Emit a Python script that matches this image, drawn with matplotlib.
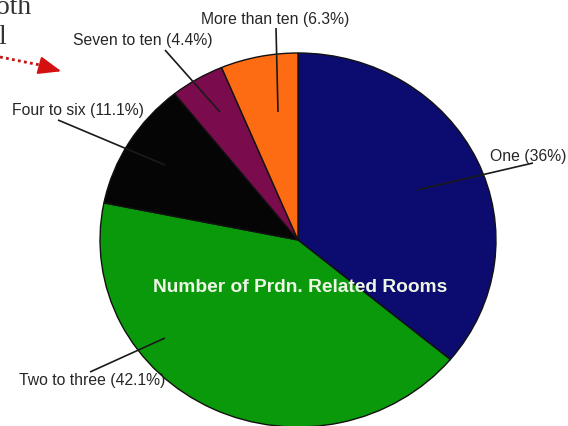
import matplotlib
matplotlib.use("Agg")
import matplotlib.pyplot as plt

# Share of establishments by number of production-related rooms
categories = ["One", "Two to three", "Four to six", "Seven to ten", "More than ten"]
shares = [36, 42.1, 11.1, 4.4, 6.3]
colors = ["#0c0b70", "#0b990c", "#050505", "#7a0b4c", "#fd6b12"]
title = "Number of Prdn. Related Rooms"

W, H = 568, 426
CX, CY, RX, RY = 298, 240, 198, 187


def px(x, y):
    """Convert a pixel position (from the top-left) to data coordinates."""
    return ((x - CX) / RX, (CY - y) / RY)


fig = plt.figure(figsize=(W / 100, H / 100), dpi=100)
ax = fig.add_axes([0, 0, 1, 1])

ax.pie(shares, colors=colors, startangle=90, counterclock=False, radius=1,
       wedgeprops=dict(edgecolor="#111111", linewidth=1.0))
ax.set_aspect("auto")
ax.set_xlim(px(0, 0)[0], px(W, 0)[0])
ax.set_ylim(px(0, H)[1], px(0, 0)[1])
ax.axis("off")

labels = [f"{c} ({s:g}%)" for c, s in zip(categories, shares)]

# label centre, leader start, leader end (pixels)
layout = [
    ((528, 156), (533, 163), (417, 190)),
    ((92, 381), (90, 372), (165, 338)),
    ((78, 110), (58, 120), (165, 165)),
    ((143, 40), (165, 50), (220, 112)),
    ((275, 19), (276, 28), (278, 112)),
]

for text, (tpos, lstart, lend) in zip(labels, layout):
    ax.text(*px(*tpos), text, ha="center", va="center", fontsize=11.3,
            family="Liberation Sans", color="#262626")
    (x0, y0), (x1, y1) = px(*lstart), px(*lend)
    ax.plot([x0, x1], [y0, y1], color="#1a1a1a", lw=1.2, solid_capstyle="butt")

ax.text(*px(300, 287), title, ha="center", va="center", fontsize=13.8,
        fontweight="bold", family="Liberation Sans", color="#eef6e6")

# fragment of surrounding document text and pointer arrow
ax.text(*px(-4, 14), "oth", ha="left", va="baseline", fontsize=20,
        family="Liberation Serif", color="#333333")
ax.text(*px(-2, 44), "l", ha="left", va="baseline", fontsize=20,
        family="Liberation Serif", color="#333333")

(ax0, ay0), (ax1, ay1) = px(0, 57), px(40, 65)
ax.plot([ax0, ax1], [ay0, ay1], color="#c41010", lw=2, linestyle=(0, (1, 1.2)))
ax.annotate("", xy=px(64, 72), xytext=px(38, 65),
            arrowprops=dict(arrowstyle="-|>,head_length=1.4,head_width=0.55",
                            color="#d41010", lw=1.5))

fig.savefig("out.png", dpi=100)
